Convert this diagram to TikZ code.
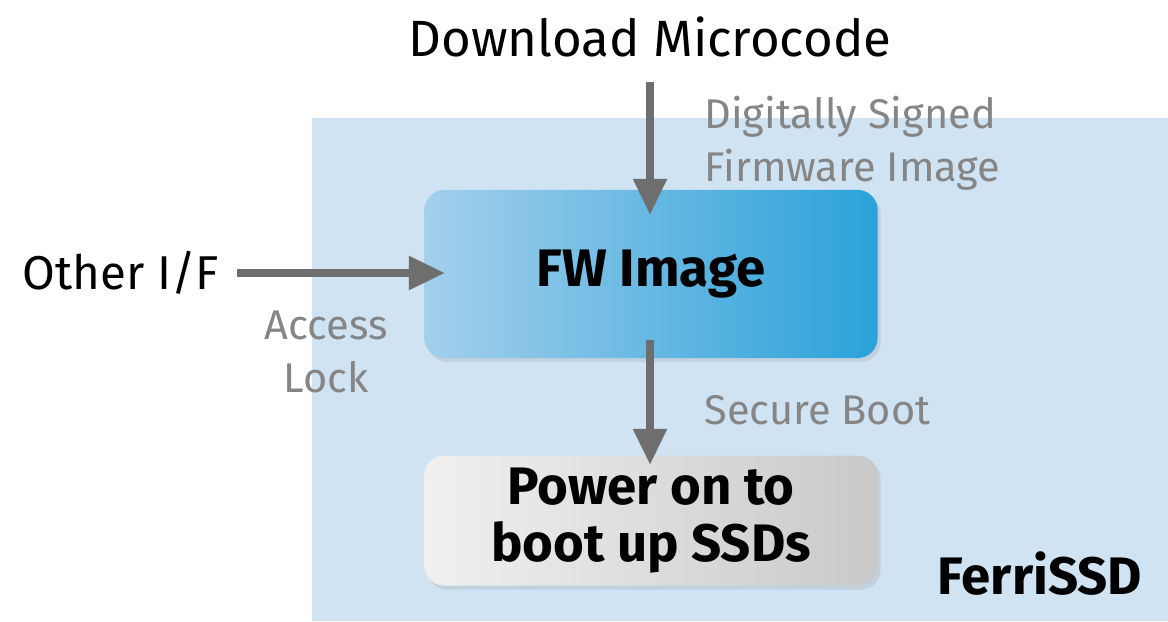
\documentclass[tikz,border=0pt]{standalone}
\usepackage{fontspec}
\setmainfont{Fira Sans}
\usetikzlibrary{positioning,shadows,arrows.meta}
\definecolor{bgblue}{HTML}{D0E3F2}
\definecolor{fwleft}{HTML}{A3CFEC}
\definecolor{fwright}{HTML}{2AA2DA}
\definecolor{pwleft}{HTML}{F0F0F0}
\definecolor{pwright}{HTML}{C9C9C9}
\definecolor{arrowgray}{HTML}{6E6E6E}
\definecolor{labelgray}{HTML}{858585}

\begin{document}
\begin{tikzpicture}[x=0.01cm,y=-0.01cm,
    box/.style={rounded corners=0.2cm,minimum width=4.53cm,align=center,
        font=\fontsize{15}{16}\selectfont\bfseries,
        drop shadow={opacity=0.18,shadow xshift=0.03cm,shadow yshift=-0.04cm}},
    title/.style={font=\fontsize{14.5}{18}\selectfont},
    note/.style={text=labelgray,font=\fontsize{11.8}{15}\selectfont,align=left},
    flow/.style={draw=arrowgray,line width=0.08cm,-{Triangle[length=0.36cm,width=0.32cm]}}]
    \useasboundingbox (0,0) rectangle (1168,621);
    \fill[bgblue] (312,118) rectangle (1168,621);

    \node[box,minimum height=1.68cm,left color=fwleft,right color=fwright] (fw) at (651,274) {FW Image};
    \node[box,minimum height=1.30cm,left color=pwleft,right color=pwright] (pw) [below=0.96cm of fw] {Power on to\\boot up SSDs};

    \node[title] (dl) at (650,37) {Download Microcode};
    \node[title,font=\fontsize{13.5}{16}\selectfont,anchor=west] (oif) at (10,273) {Other I/F};
    \node[font=\fontsize{15}{18}\selectfont\bfseries] (ferri) at (1040,574) {FerriSSD};

    \node[note,anchor=north west] (sig) at (692,84) {Digitally Signed\\Firmware Image};
    \node[note,align=center] (lock) at (326,352) {Access\\Lock};
    \node[note,anchor=west] (sb) at (692,410) {Secure Boot};

    \coordinate (fwin) at (650,215);
    \coordinate (fwside) at (445,273);
    \coordinate (fwout) at (650,340);
    \coordinate (pwin) at (650,465);

    \draw[flow] (dl.south) ++(0,12) -- (fwin);
    \draw[flow] (oif.east) ++(6,0) -- (fwside);
    \draw[flow] (fwout) -- (pwin);
\end{tikzpicture}
\end{document}
